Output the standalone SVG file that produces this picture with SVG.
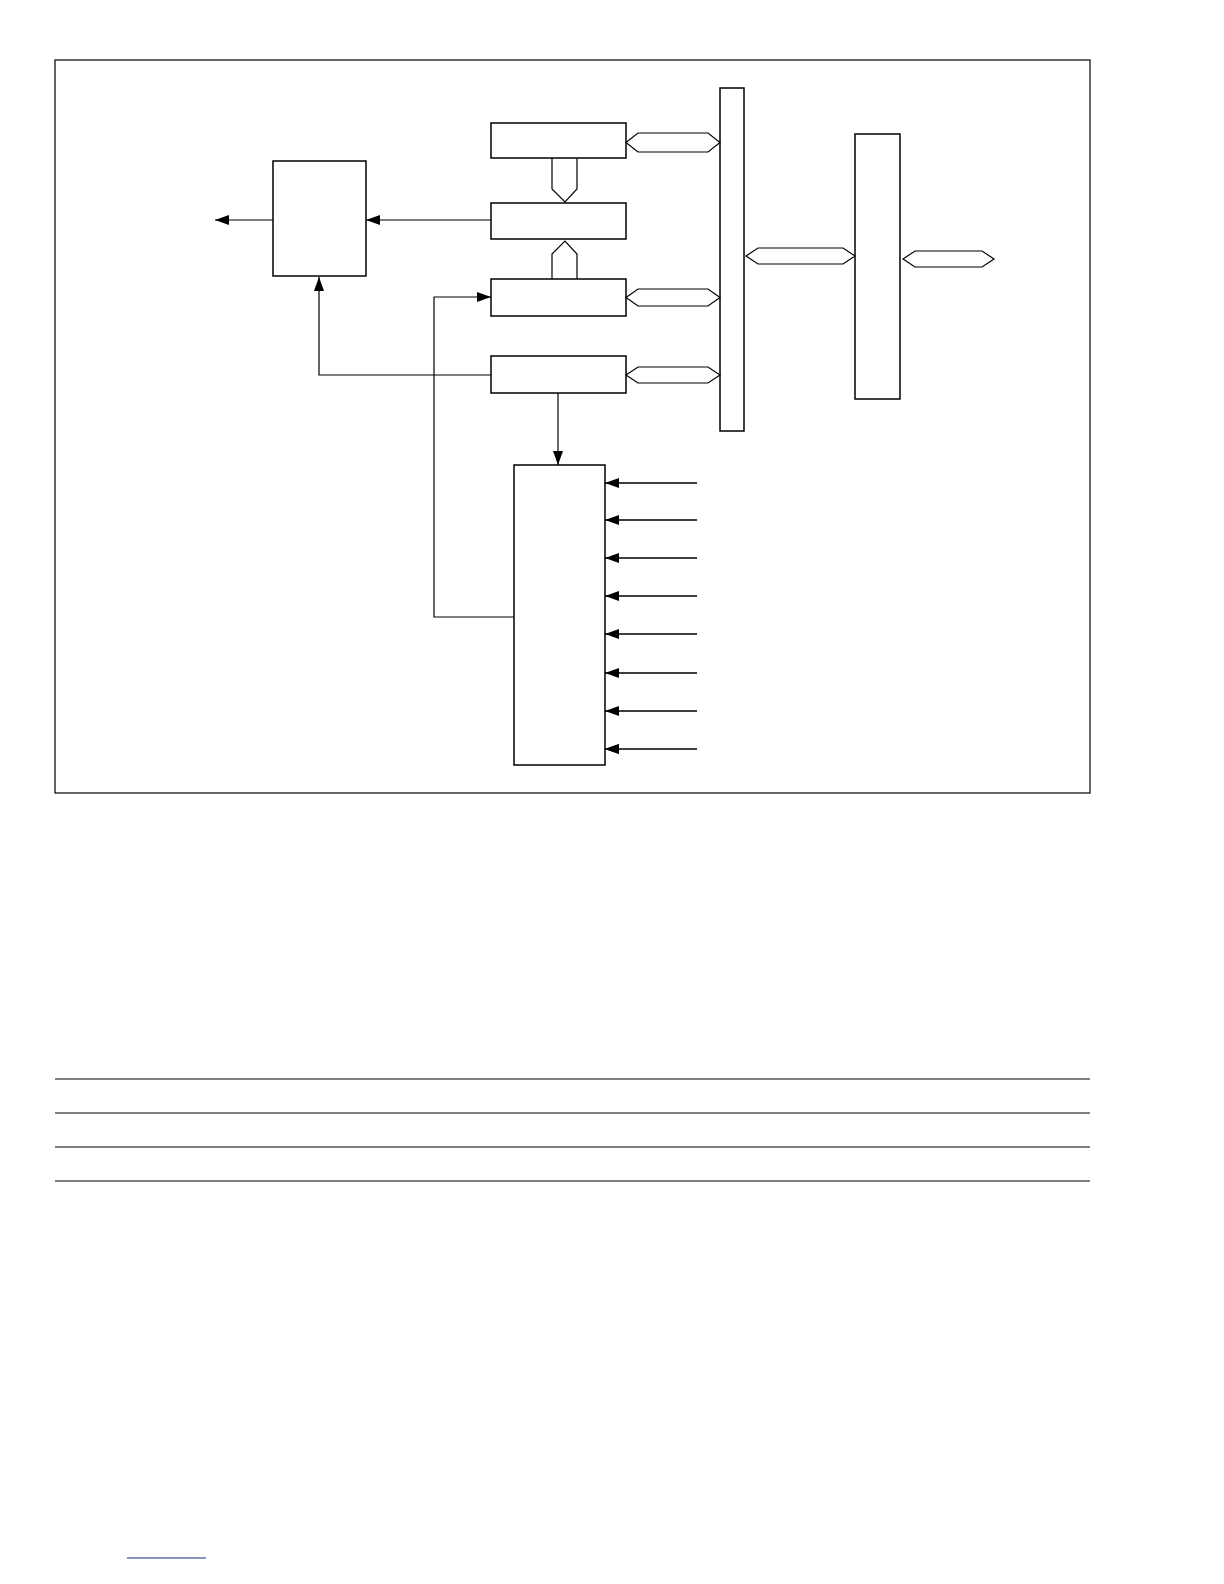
<svg xmlns="http://www.w3.org/2000/svg" width="1224" height="1584" viewBox="0 0 1224 1584">
<defs><marker id="a" markerWidth="14" markerHeight="10" refX="14" refY="5" orient="auto" markerUnits="userSpaceOnUse"><path d="M0,0L14,5L0,10z" fill="#000"/></marker></defs>
<style>.b{fill:#fff;stroke:#000;stroke-width:1.5}.l{fill:none;stroke:#000;stroke-width:1.2}</style>
<rect x="0" y="0" width="1224" height="1584" fill="#fff"/>
<rect x="55" y="60" width="1035" height="733" fill="none" stroke="#000" stroke-width="1.2"/>
<g id="n1"><rect class="b" x="491" y="123" width="135" height="35" stroke-width="2.5"/></g>
<g id="n2"><rect class="b" x="491" y="203" width="135" height="36"/></g>
<g id="n3"><rect class="b" x="491" y="279" width="135" height="37"/></g>
<g id="n4"><rect class="b" x="491" y="356" width="135" height="37"/></g>
<g id="n5"><rect class="b" x="273" y="161" width="93" height="115"/></g>
<g id="n6"><rect class="b" x="514" y="465" width="91" height="300"/></g>
<g id="n7"><rect class="b" x="720" y="88" width="24" height="343"/></g>
<g id="n8"><rect class="b" x="855" y="134" width="45" height="265"/></g>
<g id="connectors">
<path class="l" d="M552,158V189L565,202L577,189V158"/>
<path class="l" d="M552,279V254L565,241L577,254V279"/>
<path class="l" d="M626,142.5L638,133H708L720,142.5L708,152H638Z"/>
<path class="l" d="M626,297.5L638,289H708L720,297.5L708,306H638Z"/>
<path class="l" d="M626,375L638,367H708L720,375L708,383H638Z"/>
<path class="l" d="M746,256L758,248H843L855,256L843,264H758Z"/>
<path class="l" d="M903,259L915,251H982L994,259L982,267H915Z"/>
<path class="l" d="M491,220H366" marker-end="url(#a)"/>
<path class="l" d="M273,220H215" marker-end="url(#a)"/>
<path class="l" d="M491,375H319V277" marker-end="url(#a)"/>
<path class="l" d="M514,617H434V297H491" marker-end="url(#a)"/>
<path class="l" d="M558,393V465" marker-end="url(#a)"/>
<path class="l" d="M697,483H605M697,520H605M697,558H605M697,596H605M697,634H605M697,673H605M697,711H605M697,749H605" marker-end="url(#a)"/>
<path class="l" d="M697,520H605" marker-end="url(#a)"/><path class="l" d="M697,558H605" marker-end="url(#a)"/><path class="l" d="M697,596H605" marker-end="url(#a)"/><path class="l" d="M697,634H605" marker-end="url(#a)"/><path class="l" d="M697,673H605" marker-end="url(#a)"/><path class="l" d="M697,711H605" marker-end="url(#a)"/><path class="l" d="M697,749H605" marker-end="url(#a)"/><path class="l" d="M697,483H605" marker-end="url(#a)"/>
</g>
<path class="l" d="M55,1079H1090M55,1113H1090M55,1147H1090M55,1181H1090"/>
<path d="M127,1558H206" stroke="#1a237e" stroke-width="1.2"/>
</svg>
